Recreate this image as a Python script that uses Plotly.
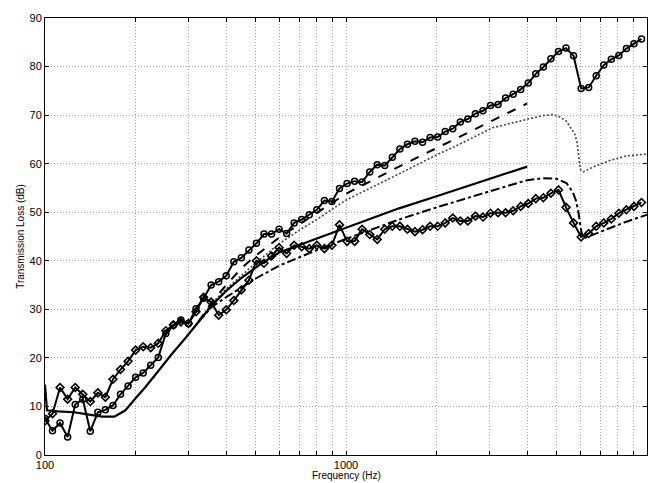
import plotly.graph_objects as go

# 1/12-octave measurement frequencies (Hz)
freq_meas = [100, 105.9, 112.2, 118.9, 126.0, 133.5, 141.4, 149.8, 158.7, 168.2, 178.2, 188.8,
             200, 211.9, 224.5, 237.8, 252.0, 267.0, 282.8, 299.7, 317.5, 336.4, 356.4, 377.6,
             400, 423.8, 449.0, 475.7, 504.0, 534.0, 565.7, 599.3, 635.0, 672.7, 712.7, 755.1,
             800, 847.6, 898.0, 951.4, 1008, 1068, 1131, 1199, 1270, 1345, 1425, 1510,
             1600, 1695, 1796, 1903, 2016, 2136, 2263, 2397, 2540, 2691, 2851, 3020,
             3200, 3390, 3592, 3805, 4032, 4271, 4525, 4795, 5080, 5382, 5702, 6041,
             6400, 6781, 7184, 7611, 8063, 8543, 9051, 9589]

tl_circles = [7.5, 5.0, 6.6, 3.7, 10.4, 11.5, 4.9, 8.8, 9.3, 10.2, 12.5, 14.2,
              16.0, 16.9, 18.5, 20.1, 25.0, 26.7, 27.8, 27.1, 30.1, 32.3, 35.0, 35.7,
              36.9, 39.8, 40.6, 42.2, 43.6, 45.5, 45.5, 46.5, 45.6, 47.8, 48.5, 49.5,
              50.5, 52.4, 52.2, 54.9, 55.9, 56.4, 56.2, 58.3, 59.8, 59.6, 61.3, 63.0,
              64.0, 64.6, 64.4, 65.4, 65.5, 66.6, 67.2, 68.6, 69.2, 70.3, 70.9, 72.0,
              72.2, 73.5, 74.3, 75.3, 76.6, 78.5, 79.9, 81.6, 83.1, 83.8, 82.2, 75.5,
              75.7, 78.1, 80.3, 81.5, 82.3, 83.7, 84.7, 85.7]

tl_diamonds = [7.0, 8.5, 13.9, 11.5, 13.9, 12.5, 11.0, 12.8, 11.9, 15.6, 17.6, 19.3,
               21.6, 22.3, 22.1, 23.0, 25.6, 26.8, 27.4, 27.1, 29.5, 32.5, 31.5, 28.8,
               29.9, 31.8, 34.0, 36.0, 40.0, 39.5, 41.0, 42.7, 41.5, 43.2, 42.9, 42.5,
               43.2, 42.5, 43.2, 47.4, 44.0, 44.0, 46.5, 45.4, 44.4, 46.5, 47.1, 47.1,
               46.5, 46.0, 46.4, 47.1, 47.1, 47.8, 48.8, 48.2, 48.2, 49.2, 49.0, 49.8,
               49.9, 49.9, 50.3, 51.2, 51.8, 52.8, 53.0, 53.9, 54.6, 51.0, 47.8, 44.9,
               45.6, 47.1, 47.8, 48.6, 49.8, 50.5, 51.2, 52.0]

# Predicted curves
freq_solid = [100, 101.5, 110, 125, 140, 155, 170, 185, 200, 215, 238, 263, 292, 323, 358,
              400, 450, 520, 600, 800, 1000, 1500, 2000, 3000, 4000]
tl_solid = [14.5, 9.2, 9.0, 8.8, 8.3, 7.9, 7.9, 9.2, 11.7, 13.9, 17.3, 20.7, 24.0, 27.4, 30.8,
            33.8, 36.5, 39.3, 41.7, 44.6, 46.8, 50.8, 53.3, 56.8, 59.4]

freq_dashed = [323, 358, 400, 450, 500, 600, 700, 800, 1000, 1500, 2000, 3000, 4000]
tl_dashed = [27.4, 31.5, 35.0, 38.5, 41.0, 44.8, 47.5, 49.8, 53.8, 59.4, 63.2, 68.6, 72.4]

freq_dotted = [323, 358, 400, 500, 600, 700, 800, 1000, 1500, 2000, 2384, 3069, 3977, 4500,
               4855, 5100, 5391, 5600, 5754, 5850, 5902, 5960, 6010, 6136, 6623, 7482, 8530, 10000]
tl_dotted = [27.4, 31.2, 34.2, 39.5, 43.5, 46.3, 48.5, 52.5, 57.9, 61.8, 64.0, 67.4, 69.1, 69.9,
             70.1, 69.7, 68.8, 67.3, 66.1, 64.5, 62.7, 60.5, 58.8, 58.3, 59.3, 60.6, 61.6, 62.0]

freq_dashdot = [323, 358, 400, 500, 600, 800, 1000, 1500, 2000, 2500, 3000, 4000, 4500, 5000,
                5400, 5660, 5800, 5900, 5970, 6050, 6150, 6500, 7500, 8500, 10000]
tl_dashdot = [27.4, 30.5, 32.5, 36.3, 39.0, 42.2, 44.5, 48.5, 51.0, 52.9, 54.3, 56.6, 57.0, 56.9,
              56.0, 54.2, 52.5, 50.5, 48.5, 46.0, 44.6, 45.2, 46.6, 48.0, 49.5]

x_tickvals = [100, 200, 300, 400, 500, 600, 700, 800, 900,
              1000, 2000, 3000, 4000, 5000, 6000, 7000, 8000, 9000, 10000]
x_ticktext = ["100", "", "", "", "", "", "", "", "",
              "1000", "", "", "", "", "", "", "", "", "10000"]
y_tickvals = [0, 10, 20, 30, 40, 50, 60, 70, 80, 90]

fig = go.Figure()

fig.add_trace(go.Scatter(x=freq_dotted, y=tl_dotted, mode="lines",
                         line=dict(color="#444444", width=1.6, dash="2px,2px")))
fig.add_trace(go.Scatter(x=freq_dashdot, y=tl_dashdot, mode="lines",
                         line=dict(color="black", width=2, dash="dashdot")))
fig.add_trace(go.Scatter(x=freq_dashed, y=tl_dashed, mode="lines",
                         line=dict(color="black", width=2, dash="dash")))
fig.add_trace(go.Scatter(x=freq_solid, y=tl_solid, mode="lines",
                         line=dict(color="black", width=2.2)))
fig.add_trace(go.Scatter(x=freq_meas, y=tl_circles, mode="lines+markers",
                         line=dict(color="black", width=2),
                         marker=dict(symbol="circle-open", size=6, color="black",
                                     line=dict(width=1.5, color="black"))))
fig.add_trace(go.Scatter(x=freq_meas, y=tl_diamonds, mode="lines+markers",
                         line=dict(color="black", width=2),
                         marker=dict(symbol="diamond-open", size=6, color="black",
                                     line=dict(width=1.6, color="black"))))

axis_font = dict(family="Liberation Sans, Arial, sans-serif", size=11, color="black")

fig.update_xaxes(type="log", range=[2, 4], tickvals=x_tickvals, ticktext=x_ticktext,
                 ticks="inside", ticklen=4, tickcolor="black", showline=True,
                 linecolor="black", linewidth=1, mirror="ticks",
                 showgrid=True, gridcolor="#a8a8a8", griddash="1px,2px", gridwidth=1,
                 zeroline=False, tickfont=axis_font, ticklabelstandoff=0)
fig.update_yaxes(range=[0, 90], tickvals=y_tickvals,
                 ticks="inside", ticklen=4, tickcolor="black", showline=True,
                 linecolor="black", linewidth=1, mirror="ticks",
                 showgrid=True, gridcolor="#a8a8a8", griddash="1px,2px", gridwidth=1,
                 zeroline=False, tickfont=axis_font)

fig.add_annotation(text="Frequency (Hz)", xref="paper", yref="paper", x=0.5, y=-0.047,
                   xanchor="center", yanchor="middle", showarrow=False,
                   font=dict(family="Liberation Sans, Arial, sans-serif", size=10, color="black"))
fig.add_annotation(text="Transmission Loss (dB)", xref="paper", yref="paper", x=-0.041, y=0.5,
                   xanchor="center", yanchor="middle", textangle=-90, showarrow=False,
                   font=dict(family="Liberation Sans, Arial, sans-serif", size=10, color="black"))

fig.update_layout(width=662, height=483, showlegend=False,
                  margin=dict(l=45, r=15, t=12, b=28),
                  paper_bgcolor="white", plot_bgcolor="white")

fig.write_html("out.html")
